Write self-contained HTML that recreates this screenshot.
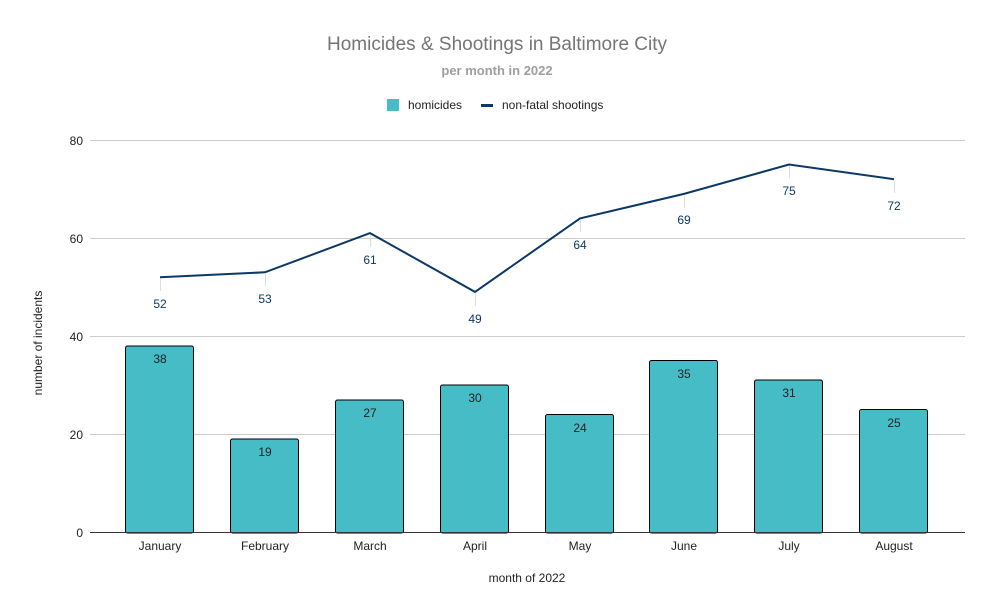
<!DOCTYPE html>
<html><head><meta charset="utf-8"><style>body{margin:0;background:#fff}svg{display:block}text{font-family:"Liberation Sans",Arial,sans-serif}</style></head><body>
<svg width="995" height="616" xmlns="http://www.w3.org/2000/svg">
<rect width="995" height="616" fill="#fff"/>
<text x="497" y="50" text-anchor="middle" font-size="19" fill="#757575">Homicides &amp; Shootings in Baltimore City</text>
<text x="497" y="75" text-anchor="middle" font-size="13" font-weight="bold" fill="#9e9e9e">per month in 2022</text>
<rect x="387" y="99" width="12" height="12" fill="#45bcc6"/>
<text x="408" y="109" font-size="12" fill="#222">homicides</text>
<rect x="481" y="104" width="12" height="3" fill="#0b3866"/>
<text x="502" y="109" font-size="12" fill="#222">non-fatal shootings</text>
<g stroke="#cccccc" stroke-width="1">
<line x1="90" x2="965" y1="140.5" y2="140.5"/>
<line x1="90" x2="965" y1="238.5" y2="238.5"/>
<line x1="90" x2="965" y1="336.5" y2="336.5"/>
<line x1="90" x2="965" y1="434.5" y2="434.5"/>
</g>
<g font-size="12" fill="#222" text-anchor="end">
<text x="83" y="145">80</text><text x="83" y="243">60</text><text x="83" y="341">40</text><text x="83" y="439">20</text><text x="83" y="537">0</text>
</g>
<text transform="translate(42,343) rotate(-90)" text-anchor="middle" font-size="12" fill="#222">number of incidents</text>
<text x="527" y="582" text-anchor="middle" font-size="12" fill="#222">month of 2022</text>
<g fill="#45bcc6" stroke="#000" stroke-width="1">
<rect x="125.5" y="346" width="68" height="187" rx="2"/>
<rect x="230.5" y="439" width="68" height="94" rx="2"/>
<rect x="335.5" y="400" width="68" height="133" rx="2"/>
<rect x="440.5" y="385" width="68" height="148" rx="2"/>
<rect x="545.5" y="414.5" width="68" height="118.5" rx="2"/>
<rect x="649.5" y="360.5" width="68" height="172.5" rx="2"/>
<rect x="754.5" y="380" width="68" height="153" rx="2"/>
<rect x="859.5" y="409.5" width="68" height="123.5" rx="2"/>
</g>
<line x1="90" x2="965" y1="532.5" y2="532.5" stroke="#333" stroke-width="1"/>
<g font-size="12" fill="#222" text-anchor="middle">
<text x="160" y="363">38</text><text x="265" y="456">19</text><text x="370" y="417">27</text><text x="475" y="402">30</text><text x="580" y="432">24</text><text x="684" y="378">35</text><text x="789" y="397">31</text><text x="894" y="427">25</text>
<text x="160" y="550">January</text><text x="265" y="550">February</text><text x="370" y="550">March</text><text x="475" y="550">April</text><text x="580" y="550">May</text><text x="684" y="550">June</text><text x="789" y="550">July</text><text x="894" y="550">August</text>
</g>
<g stroke="#dddddd" stroke-width="1">
<line x1="160.5" x2="160.5" y1="279" y2="291"/><line x1="265.5" x2="265.5" y1="274" y2="286"/><line x1="370.5" x2="370.5" y1="235" y2="247"/><line x1="475.5" x2="475.5" y1="294" y2="306"/><line x1="580.5" x2="580.5" y1="220" y2="232"/><line x1="684.5" x2="684.5" y1="196" y2="208"/><line x1="789.5" x2="789.5" y1="166" y2="178"/><line x1="894.5" x2="894.5" y1="181" y2="193"/>
</g>
<polyline fill="none" stroke="#0b3866" stroke-width="2" points="160,277.2 265,272.3 370,233.1 475,291.9 580,218.4 684,193.9 789,164.5 894,179.2"/>
<g font-size="12" fill="#0b3866" text-anchor="middle">
<text x="160" y="308">52</text><text x="265" y="303">53</text><text x="370" y="264">61</text><text x="475" y="323">49</text><text x="580" y="249">64</text><text x="684" y="224">69</text><text x="789" y="195">75</text><text x="894" y="210">72</text>
</g>
</svg>
</body></html>
